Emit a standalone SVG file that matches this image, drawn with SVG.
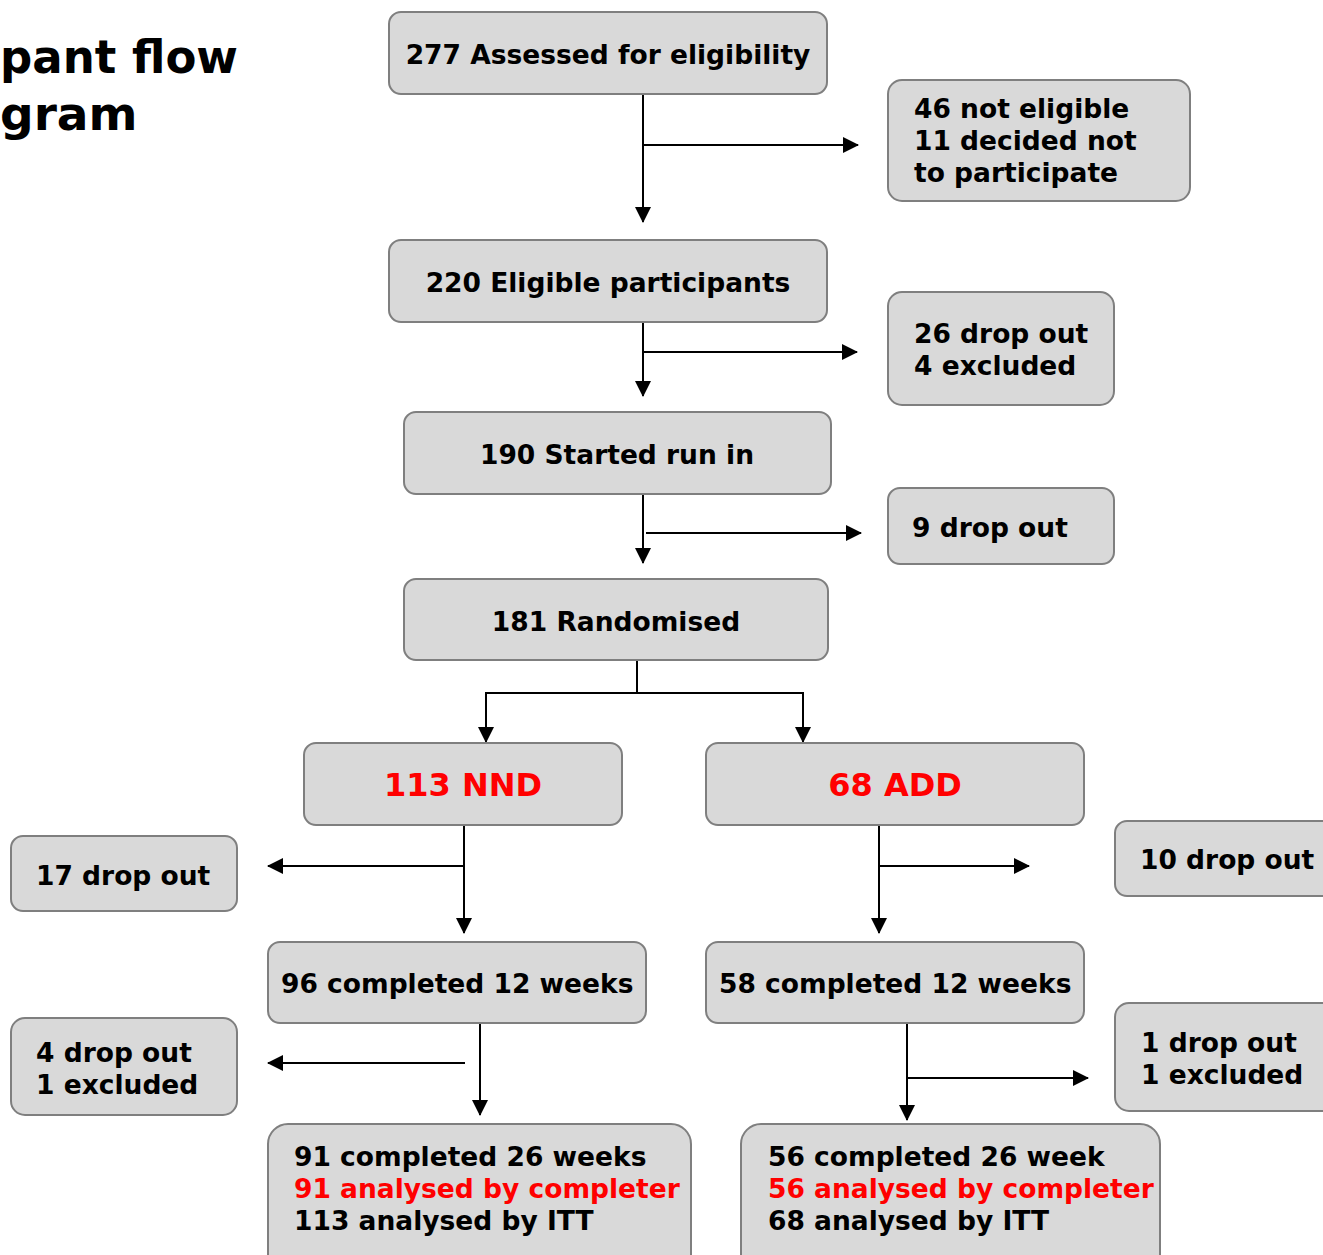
<svg xmlns="http://www.w3.org/2000/svg" width="1323" height="1255" viewBox="0 0 1323 1255">
<style>
.box{fill:#d9d9d9;stroke:#7f7f7f;stroke-width:2}
text{font-family:"DejaVu Sans","Liberation Sans",sans-serif;font-weight:bold;font-size:26.5px;fill:#000}
.c{text-anchor:middle}
.red{fill:#ff0000}
.big{font-size:32px}
.title{font-size:47px}
.ln{fill:none;stroke:#000;stroke-width:2}
</style>
<defs>
<marker id="ah" viewBox="0 0 16 16" refX="15" refY="8" markerWidth="16" markerHeight="16" markerUnits="userSpaceOnUse" orient="auto">
<path d="M0,0 L16,8 L0,16 Z" fill="#000"/>
</marker>
</defs>
<g id="title">
<text class="title" x="0" y="73" textLength="238" lengthAdjust="spacingAndGlyphs">pant flow</text>
<text class="title" x="0" y="130">gram</text>
</g>
<g id="connectors">
<path class="ln" d="M643,94 V222" marker-end="url(#ah)"/>
<path class="ln" d="M643,145 H858" marker-end="url(#ah)"/>
<path class="ln" d="M643,322 V396" marker-end="url(#ah)"/>
<path class="ln" d="M643,352 H857" marker-end="url(#ah)"/>
<path class="ln" d="M643,494 V563" marker-end="url(#ah)"/>
<path class="ln" d="M646,533 H861" marker-end="url(#ah)"/>
<path class="ln" d="M637,660 V693"/>
<path class="ln" d="M637,693 H486 V742" marker-end="url(#ah)"/>
<path class="ln" d="M637,693 H803 V742" marker-end="url(#ah)"/>
<path class="ln" d="M464,825 V933" marker-end="url(#ah)"/>
<path class="ln" d="M464,866 H268" marker-end="url(#ah)"/>
<path class="ln" d="M879,825 V933" marker-end="url(#ah)"/>
<path class="ln" d="M879,866 H1029" marker-end="url(#ah)"/>
<path class="ln" d="M480,1023 V1115" marker-end="url(#ah)"/>
<path class="ln" d="M465,1063 H268" marker-end="url(#ah)"/>
<path class="ln" d="M907,1023 V1120" marker-end="url(#ah)"/>
<path class="ln" d="M907,1078 H1088" marker-end="url(#ah)"/>
</g>
<g id="n277"><rect class="box" x="389" y="12" width="438" height="82" rx="12"/><text class="c" x="608" y="64">277 Assessed for eligibility</text></g>
<g id="n46"><rect class="box" x="888" y="80" width="302" height="121" rx="14"/><text x="914" y="118">46 not eligible</text><text x="914" y="150">11 decided not</text><text x="914" y="182">to participate</text></g>
<g id="n220"><rect class="box" x="389" y="240" width="438" height="82" rx="12"/><text class="c" x="608" y="292">220 Eligible participants</text></g>
<g id="n26"><rect class="box" x="888" y="292" width="226" height="113" rx="14"/><text x="914" y="343">26 drop out</text><text x="914" y="375">4 excluded</text></g>
<g id="n190"><rect class="box" x="404" y="412" width="427" height="82" rx="12"/><text class="c" x="617" y="464">190 Started run in</text></g>
<g id="n9"><rect class="box" x="888" y="488" width="226" height="76" rx="12"/><text x="912" y="537">9 drop out</text></g>
<g id="n181"><rect class="box" x="404" y="579" width="424" height="81" rx="12"/><text class="c" x="616" y="631">181 Randomised</text></g>
<g id="nNND"><rect class="box" x="304" y="743" width="318" height="82" rx="12"/><text class="c red big" x="463" y="796">113 NND</text></g>
<g id="nADD"><rect class="box" x="706" y="743" width="378" height="82" rx="12"/><text class="c red big" x="895" y="796">68 ADD</text></g>
<g id="n17"><rect class="box" x="11" y="836" width="226" height="75" rx="12"/><text x="36" y="885">17 drop out</text></g>
<g id="n10"><rect class="box" x="1115" y="821" width="230" height="75" rx="12"/><text x="1140" y="869">10 drop out</text></g>
<g id="n96"><rect class="box" x="268" y="942" width="378" height="81" rx="12"/><text x="281" y="993">96 completed 12 weeks</text></g>
<g id="n58"><rect class="box" x="706" y="942" width="378" height="81" rx="12"/><text x="719" y="993">58 completed 12 weeks</text></g>
<g id="n4"><rect class="box" x="11" y="1018" width="226" height="97" rx="14"/><text x="36" y="1062">4 drop out</text><text x="36" y="1094">1 excluded</text></g>
<g id="n1"><rect class="box" x="1115" y="1003" width="230" height="108" rx="14"/><text x="1141" y="1052">1 drop out</text><text x="1141" y="1084">1 excluded</text></g>
<g id="n91"><rect class="box" x="268" y="1124" width="423" height="150" rx="20"/><text x="294" y="1166">91 completed 26 weeks</text><text class="red" x="294" y="1198">91 analysed by completer</text><text x="294" y="1230">113 analysed by ITT</text></g>
<g id="n56"><rect class="box" x="741" y="1124" width="419" height="150" rx="20"/><text x="768" y="1166">56 completed 26 week</text><text class="red" x="768" y="1198">56 analysed by completer</text><text x="768" y="1230">68 analysed by ITT</text></g>
</svg>
